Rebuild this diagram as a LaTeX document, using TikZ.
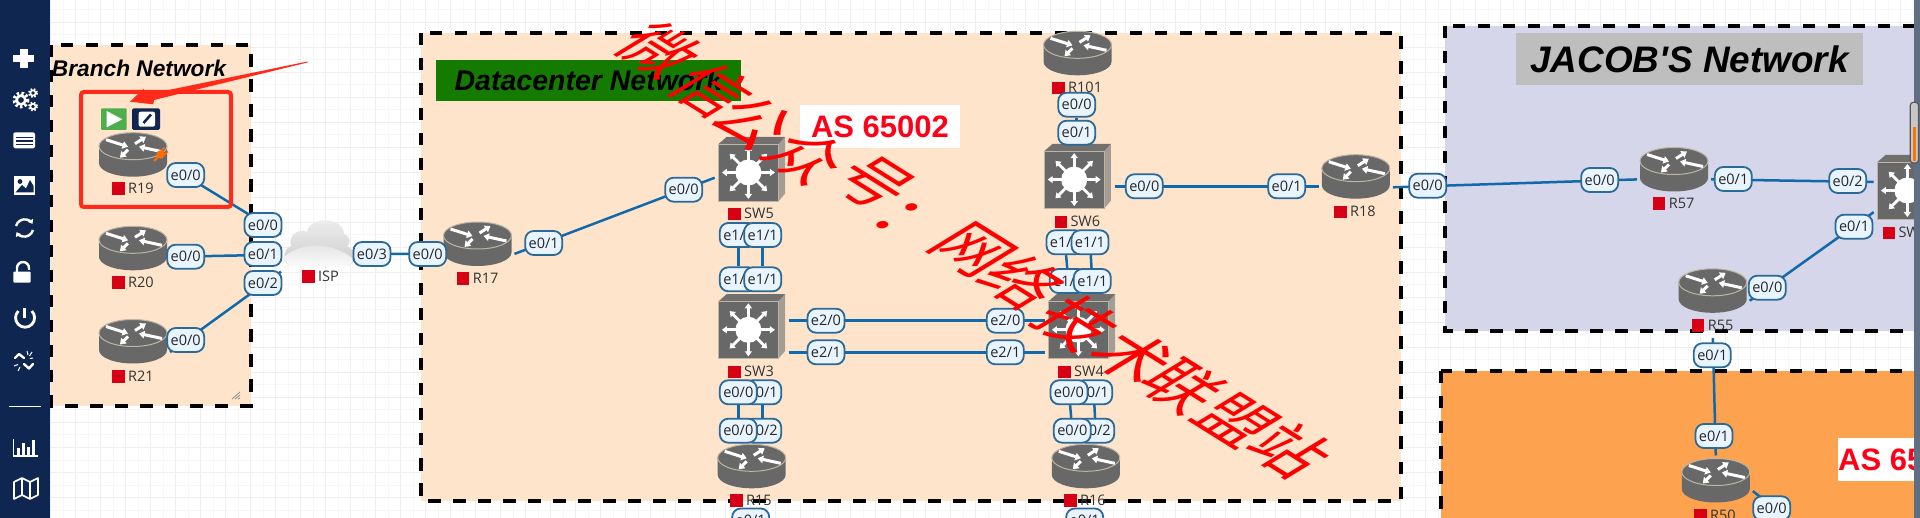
\documentclass[tikz,border=0pt]{standalone}
\usepackage{fontspec}
\usepackage{xcolor}
\usepackage{tikz}
\usetikzlibrary{arrows.meta, positioning, calc, shadings}
\setmainfont{Liberation Sans}
\newfontfamily\portfont{Open Sans}
\newfontfamily\cjkfont{Noto Sans CJK SC}
\definecolor{navybar}{RGB}{15, 38, 80}
\definecolor{stripgray}{RGB}{95, 110, 130}
\definecolor{gridmajor}{RGB}{238, 238, 240}
\definecolor{gridminor}{RGB}{247, 247, 248}
\definecolor{peach}{RGB}{255, 228, 204}
\definecolor{lavender}{RGB}{213, 214, 233}
\definecolor{orangearea}{RGB}{253, 162, 79}
\definecolor{dcgreen}{RGB}{20, 122, 0}
\definecolor{titlegray}{RGB}{190, 190, 190}
\definecolor{linkblue}{RGB}{15, 105, 170}
\definecolor{portedge}{RGB}{45, 105, 150}
\definecolor{portfill}{RGB}{232, 244, 255}
\definecolor{tagred}{RGB}{215, 0, 20}
\definecolor{asred}{RGB}{255, 0, 25}
\definecolor{markred}{RGB}{255, 42, 26}
\definecolor{bodygray}{RGB}{104, 104, 104}
\definecolor{rimbeige}{RGB}{190, 180, 165}
\newcommand{\devtag}[1]{{\color{tagred}\raisebox{-1.5pt}{\rule{12.5pt}{12.5pt}}}\hspace{3.5pt}#1}
\tikzset{
  pics/routerglyph/.style={code={
    \fill[bodygray] (-34,-8.5) -- (-34,8.5) arc[start angle=180, end angle=360, x radius=34pt, y radius=13.5pt] -- (34,-8.5) -- cycle;
    \draw[rimbeige, line width=1pt, fill=bodygray] (0,-8.5) ellipse (34 and 13.5);
    \foreach \a/\b in {{(-27,-15)}/{(-5,-8)}, {(29,-3)}/{(6,-8)}, {(2,-11)}/{(13,-18)}, {(-5,-5)}/{(-13,3)}}
      \draw[white, line width=3pt, -{Triangle[width=7.5pt, length=5.5pt]}] \a -- \b;
  }},
  pics/switchglyph/.style={code={
    \fill[rimbeige!70!bodygray] (26.6,-25) -- (33.3,-32.4) -- (33.3,24.5) -- (26.6,32.3) -- cycle;
    \fill[bodygray!90!rimbeige] (-33.4,-25) -- (-25,-32.4) -- (33.3,-32.4) -- (26.6,-25) -- cycle;
    \draw[rimbeige, line width=1pt, fill=bodygray] (-33.4,-25) rectangle (26.6,32.3);
    \foreach \ang in {0,45,...,315}
      \draw[white, line width=2.8pt, -{Triangle[width=7pt, length=5pt]}] ($(-3.3,3.3)+(\ang:12pt)$) -- ($(-3.3,3.3)+(\ang:26.5pt)$);
    \fill[white] (-3.3,3.3) circle (13);
  }},
  routerbox/.style={minimum width=74pt, minimum height=50pt, inner sep=0pt, outer sep=0pt,
    path picture={\pic at (path picture bounding box.center) {routerglyph};}},
  switchbox/.style={minimum width=74pt, minimum height=74pt, inner sep=0pt, outer sep=0pt,
    path picture={\pic at (path picture bounding box.center) {switchglyph};}},
  cloudbox/.style={minimum width=76pt, minimum height=64pt, inner sep=0pt, outer sep=0pt},
  port/.style={draw=portedge, fill=portfill, line width=1.8pt, rounded corners=8.5pt, minimum width=37pt, minimum height=24pt,
    inner sep=0pt, text=black!85, font=\portfont\fontsize{14.5}{16}\selectfont},
  devname/.style={anchor=west, inner sep=0pt, text=black!80, font=\portfont\fontsize{14.5}{16}\selectfont},
  link/.style={draw=linkblue, line width=2.5pt},
  area/.style={line width=3.3pt, dash pattern=on 12.5pt off 12.5pt},
  titlebar/.style={inner sep=0pt, text=black, font=\bfseries\itshape},
  asbox/.style={fill=white, inner sep=0pt, text=asred, font=\bfseries\fontsize{31}{33}\selectfont},
  wmark/.style={inner sep=0pt, text=red, font=\cjkfont\fontsize{62}{62}\selectfont, rotate=-32, xslant=0.5},
  toolline/.style={draw=white, line width=2.4pt},
}
\pgfdeclarelayer{areas}
\pgfdeclarelayer{links}
\pgfsetlayers{areas,links,main}
\begin{document}
\begin{tikzpicture}[x=1pt, y=-1pt]
\useasboundingbox (0,0) rectangle (1920,518);
\begin{pgfonlayer}{areas}
\fill[white] (0,0) rectangle (1920,518);
% grid
\foreach \k in {0,...,76} {
  \draw[gridminor, line width=1pt] (\k*25+13.2,0) -- (\k*25+13.2,518);
}
\foreach \k in {0,...,20} {
  \draw[gridminor, line width=1pt] (0,\k*25+10) -- (1920,\k*25+10);
}
\foreach \k in {0,...,76} {
  \draw[gridmajor, line width=1.3pt] (\k*25+0.7,0) -- (\k*25+0.7,518);
}
\foreach \k in {0,...,20} {
  \draw[gridmajor, line width=1.3pt] (0,\k*25+22.5) -- (1920,\k*25+22.5);
}
% network areas
\fill[peach] (51,45) rectangle (251,406);
\draw[area] (51,45) rectangle (251,406);
\fill[peach] (421,33) rectangle (1401,501);
\draw[area] (421,33) rectangle (1401,501);
\fill[lavender] (1445,26) rectangle (1925,331);
\draw[area] (1445,26) rectangle (1925,331);
\fill[orangearea] (1441,371) rectangle (1925,530);
\draw[area] (1441,371) rectangle (1925,530);
\end{pgfonlayer}
% area titles
\node[titlebar, font=\bfseries\itshape\fontsize{22.7}{24}\selectfont] (branchtitle) at (139,68) {Branch Network};
\node[titlebar, fill=dcgreen, minimum width=305pt, minimum height=41pt, font=\bfseries\itshape\fontsize{28.5}{30}\selectfont] (dctitle) at (588.5,80.5) {Datacenter Network};
\node[titlebar, fill=titlegray, minimum width=347pt, minimum height=52pt, font=\bfseries\itshape\fontsize{36.9}{38}\selectfont] (jacobtitle) at (1689.5,59) {JACOB\textquotesingle S Network};
\node[asbox, minimum width=160pt, minimum height=43pt] (as65002) at (880,126.5) {AS 65002};
\node[asbox, minimum width=85pt, minimum height=43pt, anchor=west] (as65) at (1838,459.5) {AS 65};
% devices
\node[routerbox] (R19) at (133,154.7) {};
\node[routerbox] (R20) at (133,248.3) {};
\node[routerbox] (R21) at (133,341.5) {};
\node[routerbox] (R17) at (477.5,244) {};
\node[routerbox] (R15) at (751.7,466.3) {};
\node[routerbox] (R16) at (1085.8,466.3) {};
\node[routerbox] (R101) at (1077.5,53.3) {};
\node[routerbox] (R18) at (1355.8,176.7) {};
\node[routerbox] (R57) at (1674,169.5) {};
\node[routerbox] (R55) at (1712.7,290.8) {};
\node[routerbox] (R50) at (1715.8,480.5) {};
\node[switchbox] (SW5) at (751.7,169.2) {};
\node[switchbox] (SW3) at (751.7,326.5) {};
\node[switchbox] (SW4) at (1081.7,326.5) {};
\node[switchbox] (SW6) at (1077.5,176.3) {};
\node[switchbox] (SWJ) at (1910.7,187.2) {};
\node[cloudbox] (ISP) at (319,243) {};
\shade[top color=black!6, bottom color=black!20, draw=black!8] (292,266) .. controls (283,266) and (281,250) .. (291,246) .. controls (288,236) and (298,228) .. (307,232) .. controls (310,217) and (342,216) .. (344,234) .. controls (352,238) and (350,244) .. (347,246) .. controls (358,250) and (356,266) .. (346,266) -- cycle;
\shade[top color=black!12, bottom color=black!2] (285,256) .. controls (305,240) and (335,244) .. (352,258) .. controls (353,263) and (350,266) .. (346,266) -- (292,266) .. controls (288,266) and (285,262) .. (285,256) -- cycle;
% device names
\node[devname] (R19n) at (112,188.7) {\devtag{R19}};
\node[devname] (R20n) at (112,282.7) {\devtag{R20}};
\node[devname] (R21n) at (112,376.7) {\devtag{R21}};
\node[devname] (ISPn) at (302,276.7) {\devtag{ISP}};
\node[devname] (R17n) at (456.7,278.7) {\devtag{R17}};
\node[devname] (SW5n) at (728,213.8) {\devtag{SW5}};
\node[devname] (SW3n) at (728,371.8) {\devtag{SW3}};
\node[devname] (R15n) at (730,500.5) {\devtag{R15}};
\node[devname] (R101n) at (1052,87.8) {\devtag{R101}};
\node[devname] (SW6n) at (1054.3,221.8) {\devtag{SW6}};
\node[devname] (SW4n) at (1058,371.8) {\devtag{SW4}};
\node[devname] (R16n) at (1064,500.5) {\devtag{R16}};
\node[devname] (R18n) at (1334,211.8) {\devtag{R18}};
\node[devname] (R57n) at (1652.7,203.7) {\devtag{R57}};
\node[devname] (R55n) at (1691.7,325.7) {\devtag{R55}};
\node[devname] (R50n) at (1694,515.7) {\devtag{R50}};
\node[devname] (SWJn) at (1882.3,232.8) {\devtag{SW}};
% ports
\node[port] (R19e00) at (185.7,175) {e0/0};
\node[port] (R20e00) at (185.7,256.7) {e0/0};
\node[port] (R21e00) at (185.7,340) {e0/0};
\node[port] (ISPe02) at (263,283) {e0/2};
\node[port] (ISPe00) at (263,225) {e0/0};
\node[port] (ISPe01) at (263,254) {e0/1};
\node[port] (ISPe03) at (372,254) {e0/3};
\node[port] (R17e00) at (427.7,254) {e0/0};
\node[port] (R17e01) at (543.7,243) {e0/1};
\node[port] (SW5e00) at (683.7,189.7) {e0/0};
\node[port] (SW5e10) at (738.3,235) {e1/0};
\node[port] (SW5e11) at (762.7,235) {e1/1};
\node[port] (SW3e10) at (738.3,279.3) {e1/0};
\node[port] (SW3e11) at (762.7,279.3) {e1/1};
\node[port] (SW3e20) at (826,320.7) {e2/0};
\node[port] (SW3e21) at (826,352.3) {e2/1};
\node[port] (SW3e01) at (762.7,392.3) {e0/1};
\node[port] (SW3e00) at (738.3,392.3) {e0/0};
\node[port] (R15e02) at (762.7,430.7) {e0/2};
\node[port] (R15e00) at (738.3,430.7) {e0/0};
\node[port] (R15e01) at (750.7,520.5) {e0/1};
\node[port] (R101e00) at (1076.7,104.7) {e0/0};
\node[port] (SW6e01) at (1076.7,132.7) {e0/1};
\node[port] (SW6e00) at (1144.3,186.3) {e0/0};
\node[port] (R18e01) at (1286.7,186.3) {e0/1};
\node[port] (R18e00) at (1427.7,185.7) {e0/0};
\node[port] (SW6e10) at (1065,242.3) {e1/0};
\node[port] (SW6e11) at (1090,242.3) {e1/1};
\node[port] (SW4e10) at (1068.3,281) {e1/0};
\node[port] (SW4e11) at (1092.3,281) {e1/1};
\node[port] (SW4e20) at (1005.3,320.7) {e2/0};
\node[port] (SW4e21) at (1005.3,352.3) {e2/1};
\node[port] (SW4e01) at (1093.7,392.3) {e0/1};
\node[port] (SW4e00) at (1069,392.3) {e0/0};
\node[port] (R16e02) at (1095.7,430.7) {e0/2};
\node[port] (R16e00) at (1072.3,430.7) {e0/0};
\node[port] (R16e01) at (1084.7,520.5) {e0/1};
\node[port] (R57e00) at (1599.7,180) {e0/0};
\node[port] (R57e01) at (1733.3,179) {e0/1};
\node[port] (SWJe02) at (1847.7,181) {e0/2};
\node[port] (SWJe01) at (1854,226.7) {e0/1};
\node[port] (R55e00) at (1767.3,287.7) {e0/0};
\node[port] (R55e01) at (1712.3,355.3) {e0/1};
\node[port] (R50e01) at (1714,436) {e0/1};
\node[port] (R50e00) at (1771.7,508.3) {e0/0};
\coordinate (R50out) at (1790,520);
% links
\begin{pgfonlayer}{links}
\draw[link] (R19.-17) -- (ISP.167);
\draw[link] (R20.-13) -- (ISP.197);
\draw[link] (R21.-16) -- (ISP.217);
\draw[link] (ISP.-16) -- (R17.195);
\draw[link] (R17.-15) -- (SW5.193);
\draw[link] (SW5e10) -- (SW3e10);
\draw[link] (SW5e11) -- (SW3e11);
\draw[link] (SW3e00) -- (R15e00);
\draw[link] (SW3e01) -- (R15e02);
\draw[link] (SW3.east |- SW3e20) -- (SW4.west |- SW4e20);
\draw[link] (SW3.east |- SW3e21) -- (SW4.west |- SW4e21);
\draw[link] (R101e00) -- (SW6e01);
\draw[link] (SW6e10) -- (SW4e10);
\draw[link] (SW6e11) -- (SW4e11);
\draw[link] (SW4e00) -- (R16e00);
\draw[link] (SW4e01) -- (R16e02);
\draw[link] (SW6.east |- SW6e00) -- (R18.west |- SW6e00);
\draw[link] (R18.-16) -- (R57.195);
\draw[link] (R57.-15) -- (SWJ.172);
\draw[link] (R55.-15) -- (SWJ.214.6);
\draw[link, shorten <=6pt] (R55n.south -| R55) -- (R50.north);
\draw[link] (R50.-16) -- (R50out);
\end{pgfonlayer}
% resize grip
\draw[black!45, line width=0.8pt] (232,399) -- (240,392) (235,399) -- (240,395) (238,399) -- (240,398);
% node toolbar on R19
\draw[markred, line width=4pt, rounded corners=3pt] (81,92) rectangle (231,207);
\fill[green!55!black!70!white, rounded corners=1pt] (101,108.3) rectangle (126.7,130);
\fill[white] (106.7,111) -- (122.3,119.3) -- (106.7,127.3) -- cycle;
\fill[navybar, rounded corners=1.5pt] (132,108.3) rectangle (160,130);
\fill[white, rounded corners=2pt] (138.7,111.7) rectangle (155,126.7);
\draw[navybar, line width=2.6pt] (143.5,123) -- (151,114.5);
\draw[orange!85!red, line width=2.2pt] (154,161) -- (158,157);
\fill[orange!85!red] (160.5,154.5) circle (4.2);
\draw[orange!85!red, line width=1.6pt] (161,151) -- (164.5,147.5) (164,155) -- (168,151.5);
% red marker arrow
\fill[markred] (307.5,61.5) -- (149,94) -- (143.3,89) -- (130,101.7) -- (153.3,104.3) -- (154,100) -- (307.5,62.5) -- cycle;
% watermark
\node[wmark] (wm1) at (659,50) {微};
\node[wmark] (wm2) at (712,90) {信};
\node[wmark] (wm3) at (753,122) {公};
\node[wmark] (wm4) at (807,157) {众};
\node[wmark] (wm5) at (873,183) {号};
\node[wmark] (wm6) at (910,225) {：};
\node[wmark] (wm7) at (973,250) {网};
\node[wmark] (wm8) at (1023,282) {络};
\node[wmark] (wm9) at (1077,323) {技};
\node[wmark] (wm10) at (1133,357) {术};
\node[wmark] (wm11) at (1183,387) {联};
\node[wmark] (wm12) at (1237,420) {盟};
\node[wmark] (wm13) at (1290,450) {站};
% left toolbar
\fill[navybar] (0,0) rectangle (50,518);
\fill[white] (13.3,55) rectangle (33.5,62);
\fill[white] (20,49) rectangle (27.5,68);
\draw[white, line width=3.2pt, dash pattern=on 2.4pt off 2.2pt] (21,100) circle (6.8);
\draw[white, line width=2.6pt] (21,100) circle (4.4);
\draw[white, line width=2.2pt, dash pattern=on 1.6pt off 1.6pt] (33,93) circle (4);
\draw[white, line width=1.6pt] (33,93) circle (2.6);
\draw[white, line width=2.2pt, dash pattern=on 1.6pt off 1.6pt] (33,106.5) circle (4);
\draw[white, line width=1.6pt] (33,106.5) circle (2.6);
\fill[white, rounded corners=1.5pt] (13.3,132.3) rectangle (35,148.3);
\draw[navybar, line width=1.2pt] (16,137.5) -- (32.5,137.5) (16,141) -- (32.5,141) (16,144.5) -- (32.5,144.5);
\fill[white] (13.5,175.7) rectangle (35,195);
\fill[navybar] (15.5,192.5) -- (22,185) -- (26,188.5) -- (30,180) -- (33.5,186) -- (33.5,192.5) -- cycle;
\fill[navybar] (20,181.5) circle (2.4);
\draw[toolline, -{Triangle[width=6pt, length=4pt]}] (16,226) arc[start angle=165, end angle=30, radius=9pt];
\draw[toolline, -{Triangle[width=6pt, length=4pt]}] (33,230) arc[start angle=-15, end angle=-150, radius=9pt];
\fill[white, rounded corners=1pt] (13.3,271.7) rectangle (30.7,282.7);
\draw[toolline] (17,272) -- (17,268) arc[start angle=180, end angle=0, radius=6pt] -- (29,270);
\draw[toolline, line width=2.8pt] (31.8,311) arc[start angle=45, end angle=-225, radius=9.5pt];
\draw[toolline, line width=2.8pt] (24.5,308) -- (24.5,318);
\draw[toolline, line cap=round, line join=round] (15,358) -- (19,354) -- (24,358);
\draw[toolline, line cap=round, line join=round] (33,364) -- (29,368.5) -- (24,364);
\draw[white, line width=1pt] (27,351) -- (28,355) (32,352) -- (29.5,356) (33,358) -- (30,358.5) (14,366) -- (18,364.5) (18,371) -- (20,367);
\draw[white, line width=1.2pt] (13.5,439) -- (13.5,456) -- (38,456);
\draw[white, line width=3pt] (18.5,454.5) -- (18.5,448) (23.5,454.5) -- (23.5,443) (28.5,454.5) -- (28.5,447) (33.5,454.5) -- (33.5,440);
\draw[white, line width=1.6pt, line join=round] (14,482) -- (22,478) -- (30,482) -- (38,478) -- (38,495) -- (30,499) -- (22,495) -- (14,499) -- cycle;
\draw[white, line width=1.4pt] (22,478) -- (22,495) (30,482) -- (30,499);
\draw[white, line width=1pt] (9,406.7) -- (41,406.7);
% right edge and scroll bar
\fill[stripgray] (1914,0) rectangle (1920,518);
\draw[black!65, fill=black!22, line width=1.2pt, rounded corners=3pt] (1910.3,102.3) rectangle (1918.5,163);
\fill[orange!90!red] (1912.6,127) rectangle (1916.2,161.5);
\end{tikzpicture}
\end{document}
